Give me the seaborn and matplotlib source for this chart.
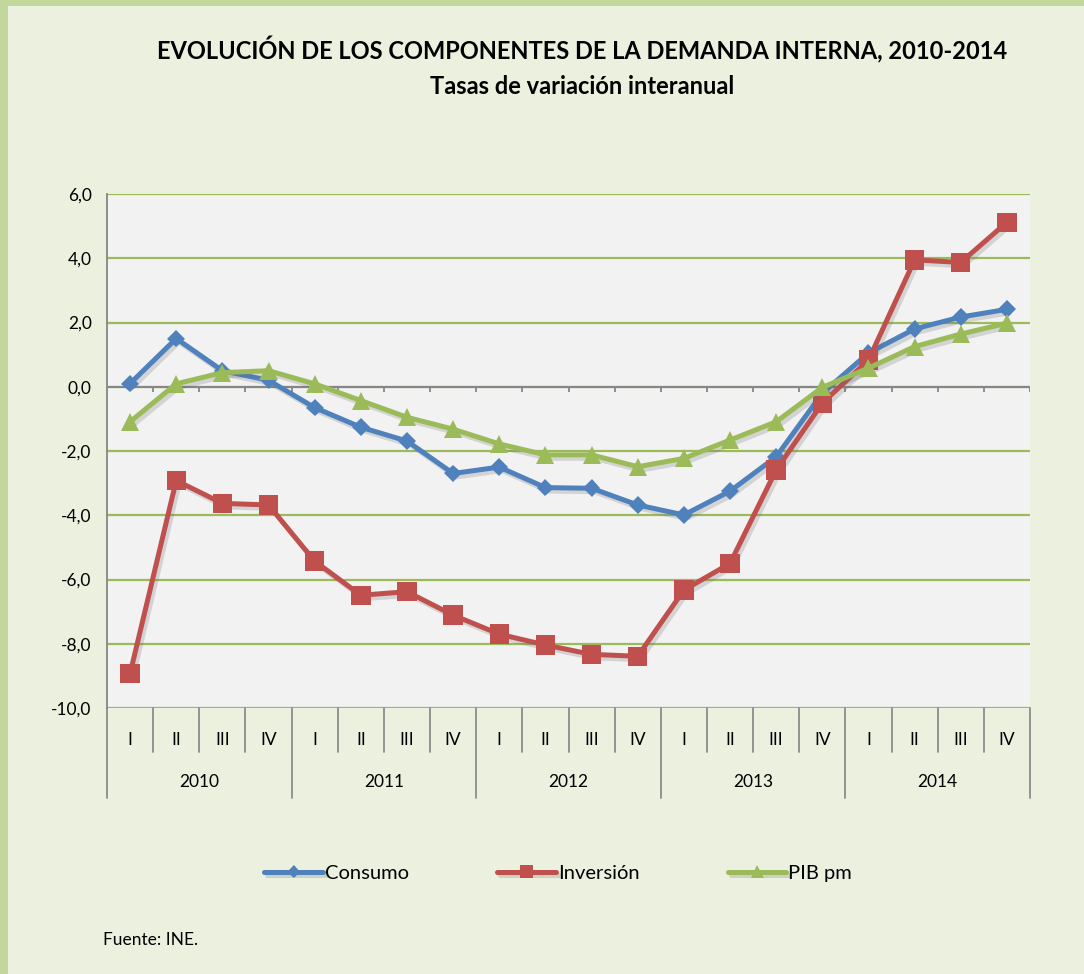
import pandas as pd
import matplotlib
matplotlib.use('Agg')
import matplotlib.pyplot as plt
import matplotlib.patheffects as pe
import matplotlib.transforms as mtransforms
from matplotlib.patches import Rectangle
import seaborn as sns

# DATA
years = ['2010', '2011', '2012', '2013', '2014']
quarters = ['I', 'II', 'III', 'IV']
consumo = [0.1, 1.5, 0.5, 0.2, -0.65, -1.26, -1.69, -2.7, -2.5, -3.14, -3.16, -3.68,
           -3.99, -3.25, -2.18, -0.2, 1.05, 1.8, 2.17, 2.41]
inversion = [-8.93, -2.92, -3.63, -3.68, -5.43, -6.49, -6.38, -7.11, -7.7, -8.04, -8.33, -8.39,
             -6.33, -5.5, -2.59, -0.51, 0.83, 3.95, 3.87, 5.12]
pib = [-1.09, 0.09, 0.44, 0.5, 0.09, -0.43, -0.95, -1.32, -1.78, -2.12, -2.12, -2.49,
       -2.23, -1.66, -1.09, -0.02, 0.58, 1.25, 1.64, 1.98]
y_ticks = [-10, -8, -6, -4, -2, 0, 2, 4, 6]

series = {'Consumo': consumo, 'Inversión': inversion, 'PIB pm': pib}
colors = {'Consumo': '#4F81BD', 'Inversión': '#C0504D', 'PIB pm': '#9BBB59'}
markers = {'Consumo': 'D', 'Inversión': 's', 'PIB pm': '^'}
msizes = {'Consumo': 9, 'Inversión': 14, 'PIB pm': 13}

n = len(years) * len(quarters)
rows = []
for name, vals in series.items():
    for i, v in enumerate(vals):
        rows.append({'idx': i, 'valor': v, 'serie': name})
df = pd.DataFrame(rows)

sns.set_style('white')
plt.rcParams['font.family'] = ['Lato', 'DejaVu Sans']
plt.rcParams['text.color'] = 'black'
plt.rcParams['xtick.color'] = 'black'
plt.rcParams['ytick.color'] = 'black'

BG = '#EBF0DF'
fig = plt.figure(figsize=(10.84, 9.74), dpi=100)
fig.patch.set_facecolor(BG)
# green frame (left and top)
fig.patches.append(Rectangle((0, 0), 8 / 1084, 1, transform=fig.transFigure,
                             facecolor='#C3D69B', edgecolor='none'))
fig.patches.append(Rectangle((0, 1 - 6 / 974), 1, 6 / 974, transform=fig.transFigure,
                             facecolor='#C3D69B', edgecolor='none'))

ax = fig.add_axes([107 / 1084, 1 - 708 / 974, 923 / 1084, 514 / 974])
ax.set_facecolor('#F2F2F2')

shadow = [pe.SimpleLineShadow(offset=(2, -2.5), shadow_color='#666666', alpha=0.22),
          pe.Normal()]
for name in series:
    sub = df[df['serie'] == name]
    sns.lineplot(data=sub, x='idx', y='valor', ax=ax, color=colors[name],
                 marker=markers[name], markersize=msizes[name], markeredgewidth=0,
                 linewidth=3.6, label=name, path_effects=shadow, zorder=3)

ax.set_xlim(-0.5, n - 0.5)
ax.set_ylim(min(y_ticks), max(y_ticks))
ax.set_yticks(y_ticks)
ax.set_yticklabels([f'{t:.1f}'.replace('.', ',') for t in y_ticks], fontsize=12.5)
for t in y_ticks:
    ax.axhline(t, color='#9BBB59', linewidth=1.6, zorder=1)
ax.grid(False)

for s in ['top', 'right', 'bottom']:
    ax.spines[s].set_visible(False)
ax.spines['left'].set_color('#868686')
ax.spines['left'].set_linewidth(1.3)
ax.tick_params(axis='y', length=5, width=1.3, color='#868686', labelcolor='black', pad=6)

# zero axis with small ticks between categories
ax.axhline(0, color='#868686', linewidth=1.5, zorder=2)
bounds = [i - 0.5 for i in range(n + 1)]
ax.vlines(bounds[1:], -0.16, 0, color='#868686', linewidth=1.3, zorder=2)

# category labels
ax.set_xticks(range(n))
ax.set_xticklabels(quarters * len(years), fontsize=12.5)
ax.tick_params(axis='x', length=0, pad=17, labelcolor='black')
ax.set_xlabel('')
ax.set_ylabel('')

trans = mtransforms.blended_transform_factory(ax.transData, ax.transAxes)
for b in bounds:
    depth = -90 / 514 if (b + 0.5) % 4 == 0 else -44 / 514
    ax.plot([b, b], [0, depth], transform=trans, color='#8C8C8C', linewidth=1.3,
            clip_on=False)
for k, yr in enumerate(years):
    ax.text(k * 4 + 1.5, -74 / 514, yr, transform=trans, ha='center', va='center',
            fontsize=12.5)

ax.legend_.remove()
handles, labels = ax.get_legend_handles_labels()
fig.legend(handles, labels, loc='center', bbox_to_anchor=(0.515, 1 - 873 / 974), ncol=3,
           frameon=False, fontsize=14.5, handlelength=2.9, handletextpad=0.1,
           columnspacing=4.4, markerscale=0.7)

fig.text(0.537, 1 - 50 / 974, 'EVOLUCIÓN DE LOS COMPONENTES DE LA DEMANDA INTERNA, 2010-2014',
         ha='center', va='center', fontsize=17, fontweight='bold')
fig.text(0.537, 1 - 86 / 974, 'Tasas de variación interanual',
         ha='center', va='center', fontsize=17, fontweight='bold')
fig.text(103 / 1084, 1 - 940 / 974, 'Fuente: INE.', ha='left', va='center', fontsize=12.5)

fig.savefig('out.png', dpi=100, facecolor=BG)
